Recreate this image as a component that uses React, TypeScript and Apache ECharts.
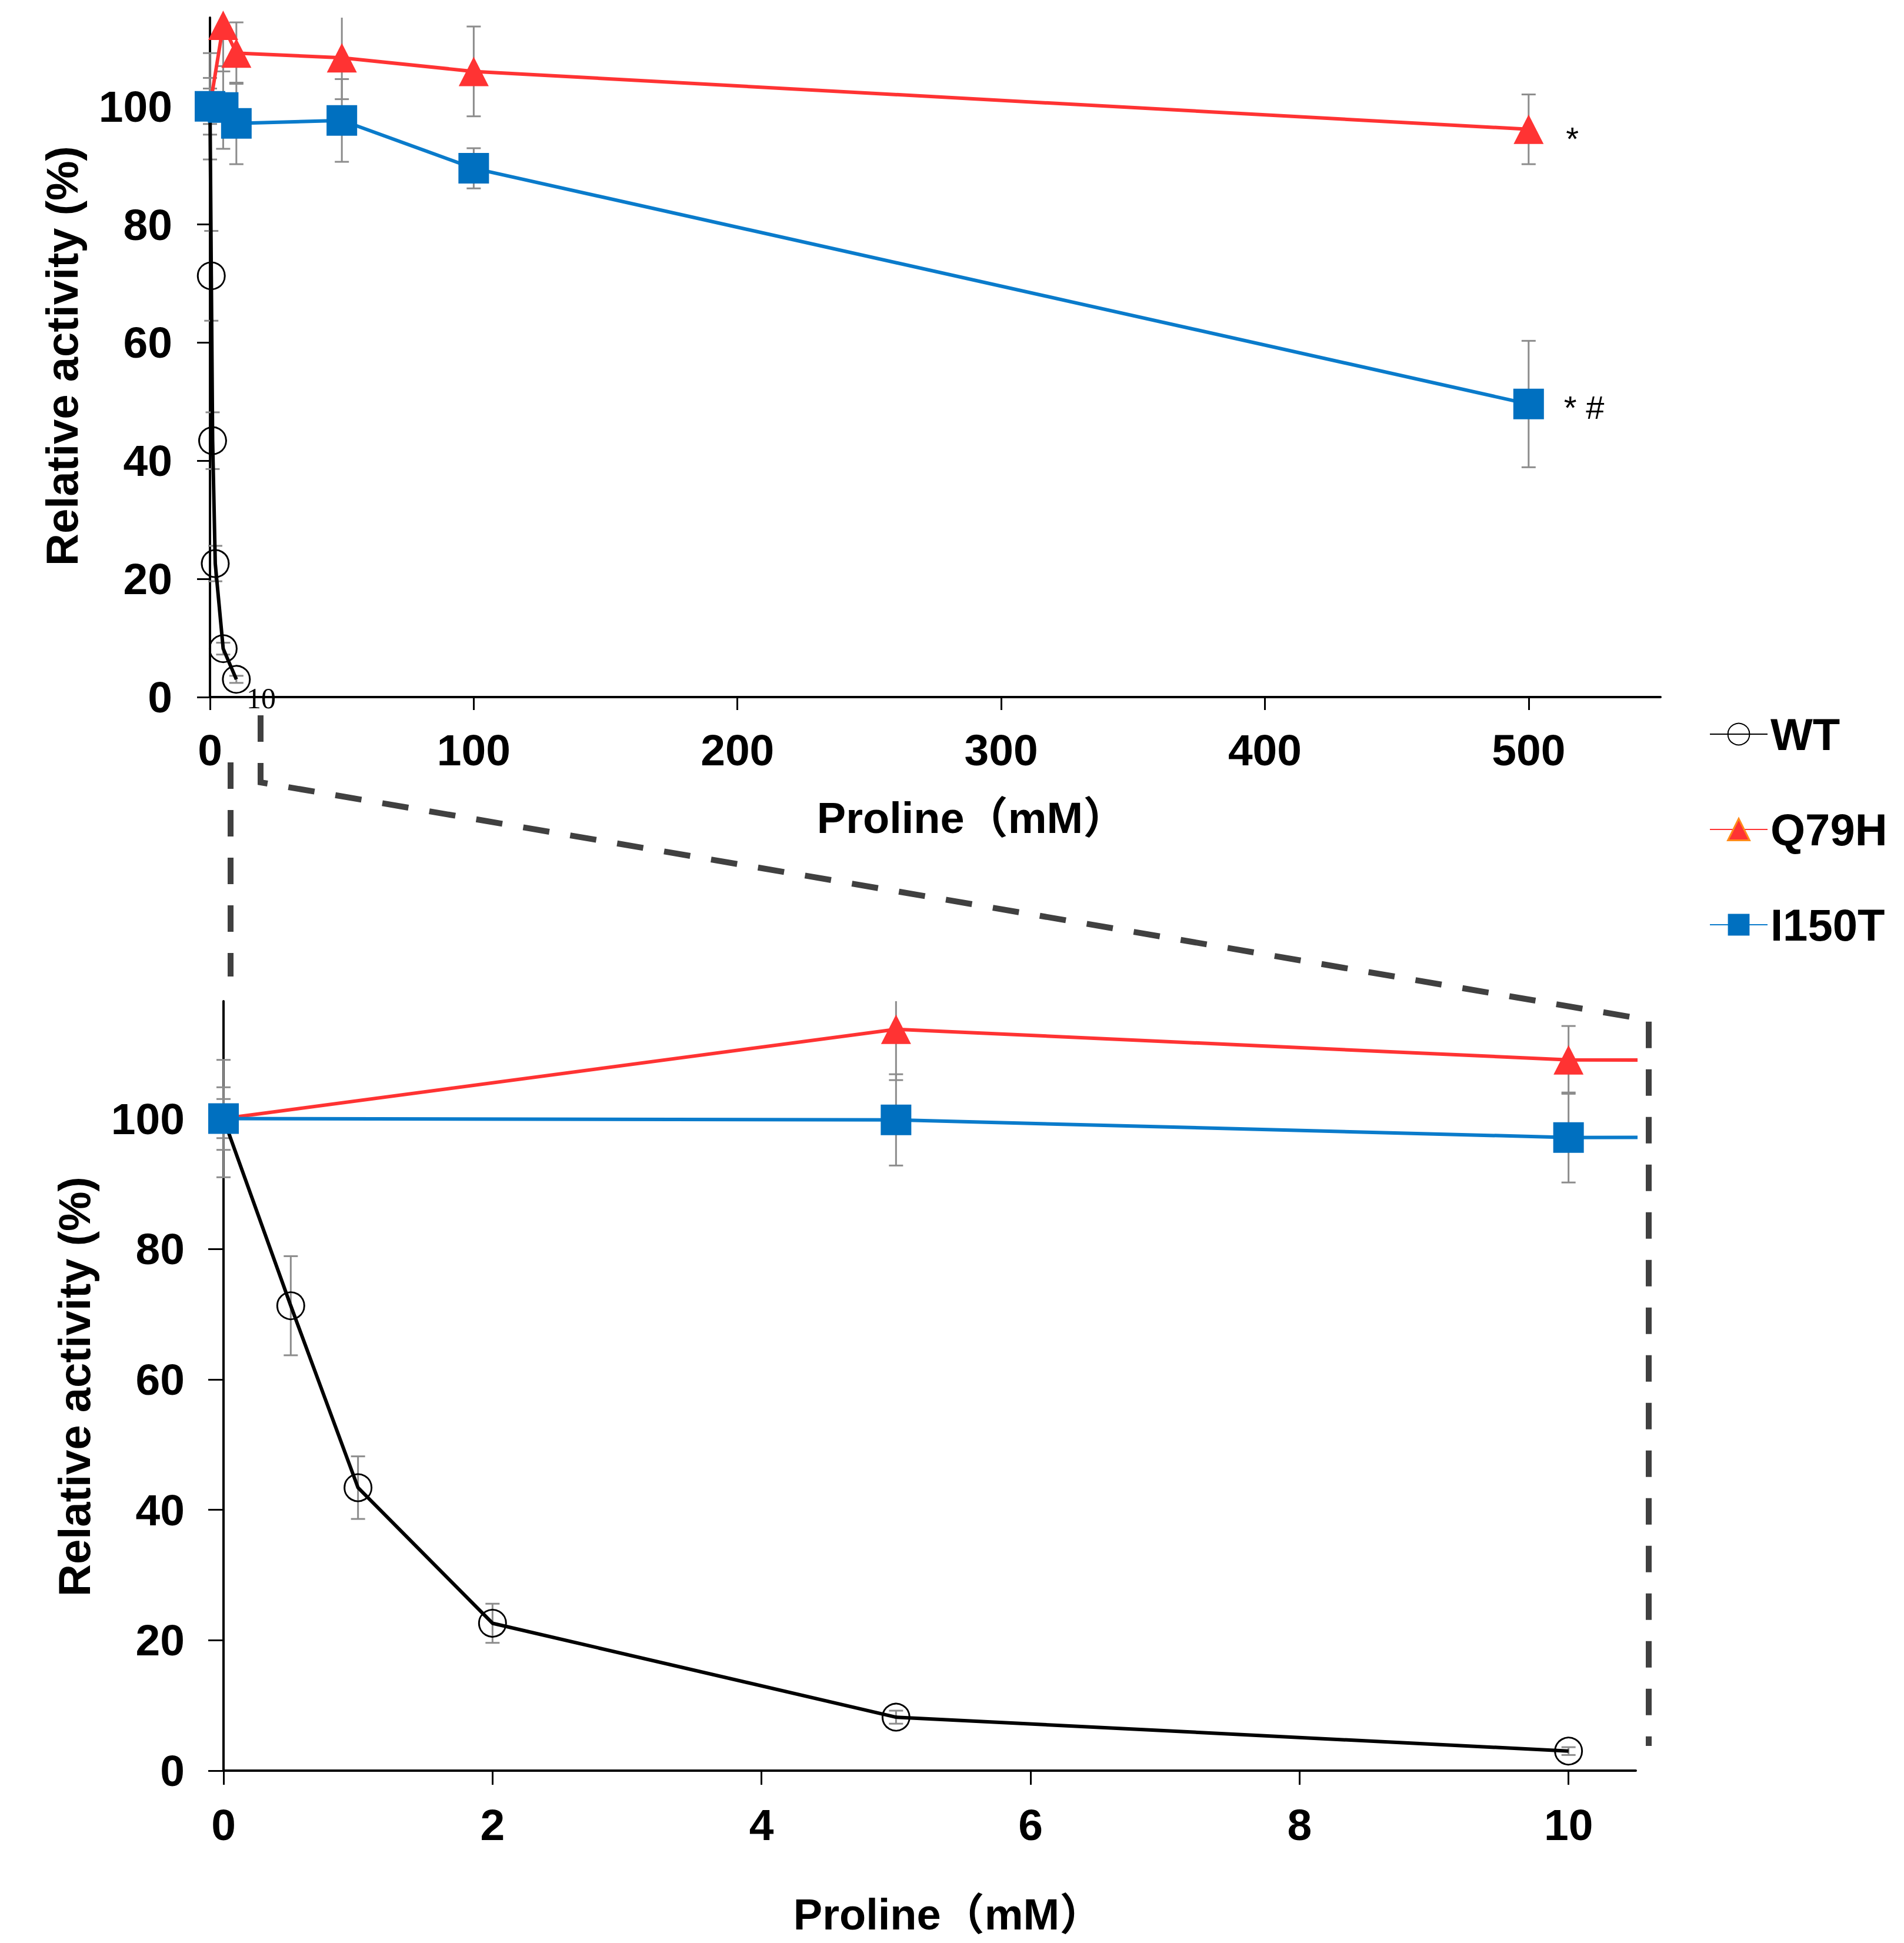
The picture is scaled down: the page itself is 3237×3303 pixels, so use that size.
import React, { useEffect, useRef } from 'react';
import * as echarts from 'echarts';

// Proline inhibition of WT and mutant enzymes (mean ± SD, % of activity without proline)
const wtConc = [0, 0.5, 1, 2, 5, 10];
const wtMean = [100, 71.3, 43.4, 22.6, 8.2, 3.0];
const wtSd = [9.0, 7.6, 4.8, 3.0, 1.0, 0.6];

const mutConc = [0, 5, 10, 50, 100, 500];
const q79hMean = [100, 113.7, 109.0, 108.2, 105.9, 96.1];
const q79hSd = [4.8, 7.8, 5.2, 7.0, 7.6, 5.9];
const i150tMean = [100, 99.8, 97.1, 97.6, 89.5, 49.6];
const i150tSd = [3.0, 7.0, 6.9, 7.0, 3.4, 10.7];

// significance marks drawn beside the 500 mM points
const q79hMarks = ['', '', '', '', '', '*'];
const i150tMarks = ['', '', '', '', '', '* #'];

const seriesNames = ['WT', 'Q79H', 'I150T'];
const topXTicks = [0, 100, 200, 300, 400, 500];
const bottomXTicks = [0, 2, 4, 6, 8, 10];
const yTicks = [0, 20, 40, 60, 80, 100];
const xTitle = 'Proline（mM）';
const yTitle = 'Relative activity (%)';
const zoomLabel = '10';

// ---- layout ----
const W = 3237;
const H = 3303;
const TOP = { left: 357, top: 30, width: 2466, height: 1155 };
const BOT = { left: 380, top: 1702, width: 2401, height: 1308 };
const FONT = '"Liberation Sans", Arial, Helvetica, sans-serif';
const TITLE_FONT = '"Liberation Sans", "Noto Sans CJK JP", sans-serif';

const RED = '#FF3333';
const BLUE_LINE = '#0A7BCB';
const BLUE_MARK = '#0070C0';
const ERR = '#8c8c8c';
const LINE_W = 6;

const tickFont = { color: '#000', fontSize: 75, fontWeight: 'bold' as const, fontFamily: FONT };

function xAxis(gridIndex: number, max: number, ticks: number[], margin: number, tickLen: number) {
  return {
    type: 'value', gridIndex, min: 0, max,
    axisLine: { show: true, onZero: false, lineStyle: { color: '#000', width: 4 } },
    axisTick: { show: true, length: tickLen, customValues: ticks, lineStyle: { color: '#000', width: 3 } },
    axisLabel: { customValues: ticks, margin, ...tickFont },
    splitLine: { show: false },
  };
}

function yAxis(gridIndex: number, max: number, margin: number, tickLen: number) {
  return {
    type: 'value', gridIndex, min: 0, max,
    axisLine: { show: true, onZero: false, lineStyle: { color: '#000', width: 4 } },
    axisTick: { show: true, length: tickLen, customValues: yTicks, lineStyle: { color: '#000', width: 3 } },
    axisLabel: { customValues: yTicks, margin, ...tickFont },
    splitLine: { show: false },
  };
}

function errorSeries(name: string, axis: number, conc: number[], mean: number[], sd: number[]) {
  return {
    type: 'custom', name: name + ' SD', xAxisIndex: axis, yAxisIndex: axis, z: 1, silent: true,
    data: conc.map((c, i) => [c, mean[i], sd[i]]),
    encode: { x: 0, y: 1 },
    renderItem: (params: any, api: any) => {
      const x = api.value(0);
      const m = api.value(1);
      const e = api.value(2);
      const cs = params.coordSys;
      const hi = api.coord([x, m + e]);
      const lo = api.coord([x, m - e]);
      const px = hi[0];
      if (px < cs.x - 1 || px > cs.x + cs.width + 1) return { type: 'group', children: [] };
      const style = { stroke: ERR, lineWidth: 3 };
      const yTop = Math.max(hi[1], cs.y);
      const yBot = Math.min(lo[1], cs.y + cs.height);
      const children: any[] = [
        { type: 'line', shape: { x1: px, y1: yTop, x2: px, y2: yBot }, style },
        { type: 'line', shape: { x1: px - 12, y1: lo[1], x2: px + 12, y2: lo[1] }, style },
      ];
      if (hi[1] >= cs.y) {
        children.push({ type: 'line', shape: { x1: px - 12, y1: hi[1], x2: px + 12, y2: hi[1] }, style });
      }
      return { type: 'group', children };
    },
  };
}

function markedData(conc: number[], mean: number[], marks: string[] | null, dist: number, off: number) {
  return conc.map((c, i) => {
    if (!marks || !marks[i]) return [c, mean[i]];
    return {
      value: [c, mean[i]],
      label: {
        show: true, position: 'right', distance: dist, offset: [0, off],
        formatter: marks[i], fontSize: 56, color: '#000', fontFamily: FONT,
      },
    };
  });
}

function lineSeries(axis: number, withMarks: boolean) {
  return [
    {
      type: 'line', name: seriesNames[0], xAxisIndex: axis, yAxisIndex: axis, z: 3, clip: true,
      data: wtConc.map((c, i) => [c, wtMean[i]]),
      symbol: 'circle', symbolSize: 46, showSymbol: true,
      itemStyle: { color: 'rgba(255,255,255,0)', borderColor: '#000', borderWidth: 3 },
      lineStyle: { color: '#000', width: LINE_W },
      emphasis: { disabled: true },
    },
    {
      type: 'line', name: seriesNames[1], xAxisIndex: axis, yAxisIndex: axis, z: 3, clip: true,
      data: markedData(mutConc, q79hMean, withMarks ? q79hMarks : null, 38, 16),
      symbol: 'triangle', symbolSize: [51, 50], showSymbol: true,
      itemStyle: { color: RED },
      lineStyle: { color: RED, width: LINE_W },
      emphasis: { disabled: true },
    },
    {
      type: 'line', name: seriesNames[2], xAxisIndex: axis, yAxisIndex: axis, z: 3, clip: true,
      data: markedData(mutConc, i150tMean, withMarks ? i150tMarks : null, 34, 6),
      symbol: 'rect', symbolSize: 52, showSymbol: true,
      itemStyle: { color: BLUE_MARK },
      lineStyle: { color: BLUE_LINE, width: LINE_W },
      emphasis: { disabled: true },
    },
  ];
}

const titleStyle = (text: string) => ({
  text, fill: '#000', fontSize: 74, fontWeight: 'bold', fontFamily: TITLE_FONT,
  align: 'center', verticalAlign: 'middle',
});
const yTitleStyle = {
  text: yTitle, fill: '#000', fontSize: 76, fontWeight: 'bold', fontFamily: FONT,
  align: 'center', verticalAlign: 'middle',
};
const dash = { stroke: '#404040', lineWidth: 10, lineDash: [45, 36], fill: null };

const option: any = {
  animation: false,
  backgroundColor: '#fff',
  grid: [
    { ...TOP, containLabel: false },
    { ...BOT, containLabel: false },
  ],
  xAxis: [
    xAxis(0, 550, topXTicks, 52, 22),
    xAxis(1, 10.5, bottomXTicks, 54, 24),
  ],
  yAxis: [
    yAxis(0, 115, 64, 22),
    yAxis(1, 118, 66, 26),
  ],
  legend: {
    data: [
      { name: 'WT' },
      { name: 'Q79H', itemStyle: { borderColor: '#FF8C1A', borderWidth: 3 } },
      { name: 'I150T' },
    ],
    orient: 'vertical', left: 2906, top: 1210, padding: 0,
    itemWidth: 98, itemHeight: 46, itemGap: 86, selectedMode: false,
    textStyle: { fontSize: 76, fontWeight: 'bold', fontFamily: FONT, color: '#000' },
  },
  series: [
    errorSeries('WT', 0, wtConc, wtMean, wtSd),
    errorSeries('Q79H', 0, mutConc, q79hMean, q79hSd),
    errorSeries('I150T', 0, mutConc, i150tMean, i150tSd),
    errorSeries('WT', 1, wtConc, wtMean, wtSd),
    errorSeries('Q79H', 1, mutConc, q79hMean, q79hSd),
    errorSeries('I150T', 1, mutConc, i150tMean, i150tSd),
    ...lineSeries(0, true),
    ...lineSeries(1, false),
  ],
  graphic: [
    { type: 'text', x: 1652, y: 1390, style: titleStyle(xTitle) },
    { type: 'text', x: 1612, y: 3254, style: titleStyle(xTitle) },
    { type: 'text', x: 105, y: 605, rotation: Math.PI / 2, style: yTitleStyle },
    { type: 'text', x: 126, y: 2357, rotation: Math.PI / 2, style: yTitleStyle },
    {
      type: 'text', x: 444, y: 1187,
      style: {
        text: zoomLabel, fill: '#000', fontSize: 50,
        fontFamily: '"Liberation Serif", "DejaVu Serif", serif',
        align: 'center', verticalAlign: 'middle',
      },
    },
    { type: 'polyline', shape: { points: [[443, 1216], [443, 1330], [2803, 1734], [2803, 2968]] }, style: dash },
    { type: 'polyline', shape: { points: [[392, 1296], [392, 1660]] }, style: dash },
  ],
};

export default function App() {
  const ref = useRef<HTMLDivElement>(null);
  useEffect(() => {
    if (!ref.current) return;
    const chart = echarts.init(ref.current, null, { renderer: 'svg', width: W, height: H });
    chart.setOption(option);
    return () => chart.dispose();
  }, []);
  return (
    <div
      ref={ref}
      style={{ position: 'fixed', left: 0, top: 0, width: W, height: H, background: '#fff' }}
    />
  );
}
